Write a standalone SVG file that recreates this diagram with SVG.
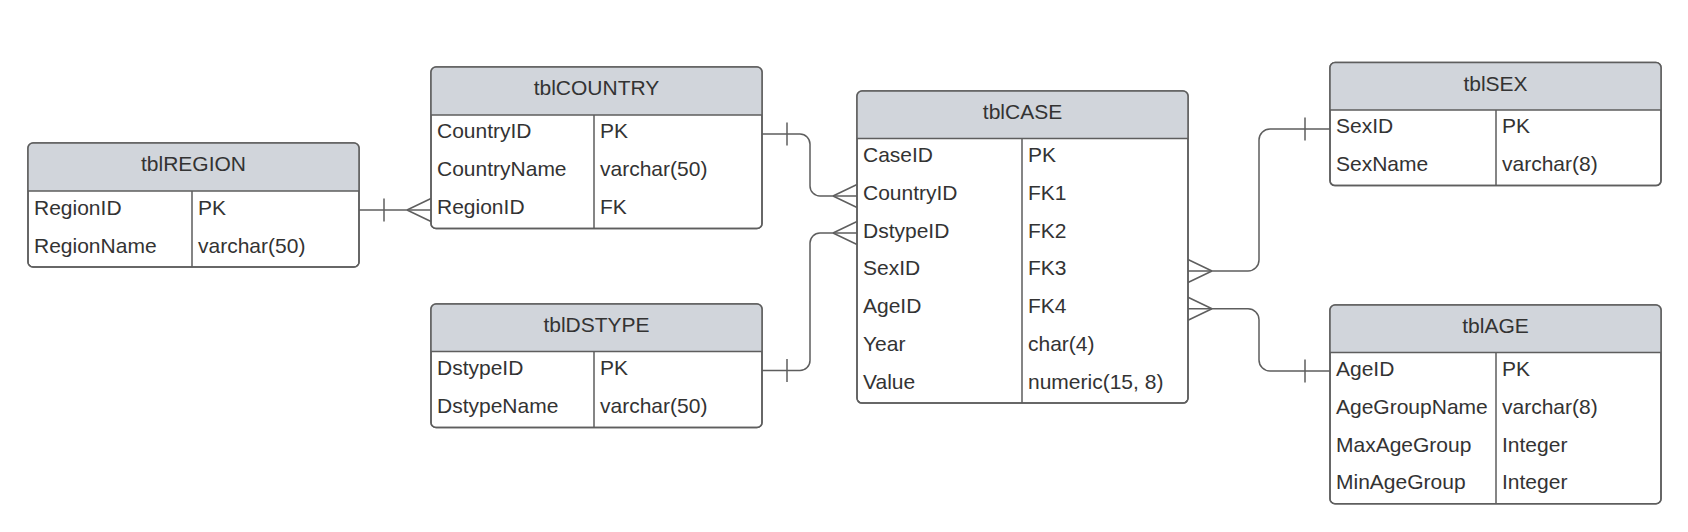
<svg xmlns="http://www.w3.org/2000/svg" width="1688" height="532" viewBox="0 0 1688 532">
<style>
.box{fill:#ffffff;stroke:#5e5e5e;stroke-width:1.5}
.hdr{fill:#d1d5db;stroke:none}
.ln{stroke:#5e5e5e;stroke-width:1.5;fill:none}
.t{font-family:"Liberation Sans",Arial,sans-serif;font-size:21px;fill:#333333}
.h{text-anchor:middle}
.conn{stroke:#5e5e5e;stroke-width:1.5;fill:none;marker-start:url(#one);marker-end:url(#many)}
.mk{stroke:#5e5e5e;stroke-width:1.5;fill:none}
</style>
<defs>
<marker id="one" markerUnits="userSpaceOnUse" viewBox="-30 -15 32 30" markerWidth="32" markerHeight="30" refX="0" refY="0" orient="auto-start-reverse" overflow="visible">
<path class="mk" d="M-25,-11.5 V11.5"/>
</marker>
<marker id="many" markerUnits="userSpaceOnUse" viewBox="-30 -15 32 30" markerWidth="32" markerHeight="30" refX="0" refY="0" orient="auto" overflow="visible">
<path class="mk" d="M-24,0 L0,-11.5 M-24,0 L0,11.5"/>
</marker>
</defs>
<rect width="1688" height="532" fill="#ffffff"/>

<g id="connectors">
<path class="conn" d="M359,210 H431"/>
<path class="conn" d="M762,134 H800 A10,10 0 0 1 810,144 V186 A10,10 0 0 0 820,196 H857"/>
<path class="conn" d="M762,370.5 H800 A10,10 0 0 0 810,360.5 V243 A10,10 0 0 1 820,233 H857"/>
<path class="conn" d="M1330,129 H1270 A11,11 0 0 0 1259,140 V260 A11,11 0 0 1 1248,271 H1188"/>
<path class="conn" d="M1330,371 H1270 A11,11 0 0 1 1259,360 V319.7 A11,11 0 0 0 1248,308.7 H1188"/>
</g>

<g id="tblREGION">
<rect class="box" x="28" y="143" width="331" height="124" rx="5"/>
<path class="hdr" d="M28,191 V148 A5,5 0 0 1 33,143 H354 A5,5 0 0 1 359,148 V191 Z"/>
<rect x="28" y="143" width="331" height="124" rx="5" class="ln"/>
<path class="ln" d="M28,191 H359 M192,191 V267"/>
<text class="t h" x="193.5" y="171">tblREGION</text>
<text class="t" x="34" y="214.5">RegionID</text><text class="t" x="198" y="214.5">PK</text>
<text class="t" x="34" y="252.5">RegionName</text><text class="t" x="198" y="252.5">varchar(50)</text>
</g>

<g id="tblCOUNTRY">
<rect class="box" x="431" y="67" width="331" height="161.4" rx="5"/>
<path class="hdr" d="M431,115 V72 A5,5 0 0 1 436,67 H757 A5,5 0 0 1 762,72 V115 Z"/>
<rect x="431" y="67" width="331" height="161.4" rx="5" class="ln"/>
<path class="ln" d="M431,115 H762 M594,115 V228.4"/>
<text class="t h" x="596.5" y="95">tblCOUNTRY</text>
<text class="t" x="437" y="138.4">CountryID</text><text class="t" x="600" y="138.4">PK</text>
<text class="t" x="437" y="176.2">CountryName</text><text class="t" x="600" y="176.2">varchar(50)</text>
<text class="t" x="437" y="214">RegionID</text><text class="t" x="600" y="214">FK</text>
</g>

<g id="tblDSTYPE">
<rect class="box" x="431" y="304" width="331" height="123.5" rx="5"/>
<path class="hdr" d="M431,351.5 V309 A5,5 0 0 1 436,304 H757 A5,5 0 0 1 762,309 V351.5 Z"/>
<rect x="431" y="304" width="331" height="123.5" rx="5" class="ln"/>
<path class="ln" d="M431,351.5 H762 M594,351.5 V427.5"/>
<text class="t h" x="596.5" y="332">tblDSTYPE</text>
<text class="t" x="437" y="375">DstypeID</text><text class="t" x="600" y="375">PK</text>
<text class="t" x="437" y="413">DstypeName</text><text class="t" x="600" y="413">varchar(50)</text>
</g>

<g id="tblCASE">
<rect class="box" x="857" y="91" width="331" height="312.1" rx="5"/>
<path class="hdr" d="M857,138.5 V96 A5,5 0 0 1 862,91 H1183 A5,5 0 0 1 1188,96 V138.5 Z"/>
<rect x="857" y="91" width="331" height="312.1" rx="5" class="ln"/>
<path class="ln" d="M857,138.5 H1188 M1022,138.5 V403.1"/>
<text class="t h" x="1022.5" y="119">tblCASE</text>
<text class="t" x="863" y="161.9">CaseID</text><text class="t" x="1028" y="161.9">PK</text>
<text class="t" x="863" y="199.7">CountryID</text><text class="t" x="1028" y="199.7">FK1</text>
<text class="t" x="863" y="237.5">DstypeID</text><text class="t" x="1028" y="237.5">FK2</text>
<text class="t" x="863" y="275.3">SexID</text><text class="t" x="1028" y="275.3">FK3</text>
<text class="t" x="863" y="313.1">AgeID</text><text class="t" x="1028" y="313.1">FK4</text>
<text class="t" x="863" y="350.9">Year</text><text class="t" x="1028" y="350.9">char(4)</text>
<text class="t" x="863" y="388.7">Value</text><text class="t" x="1028" y="388.7">numeric(15, 8)</text>
</g>

<g id="tblSEX">
<rect class="box" x="1330" y="62.5" width="331" height="123.1" rx="5"/>
<path class="hdr" d="M1330,110 V67.5 A5,5 0 0 1 1335,62.5 H1656 A5,5 0 0 1 1661,67.5 V110 Z"/>
<rect x="1330" y="62.5" width="331" height="123.1" rx="5" class="ln"/>
<path class="ln" d="M1330,110 H1661 M1496,110 V185.6"/>
<text class="t h" x="1495.5" y="90.5">tblSEX</text>
<text class="t" x="1336" y="133.4">SexID</text><text class="t" x="1502" y="133.4">PK</text>
<text class="t" x="1336" y="171.2">SexName</text><text class="t" x="1502" y="171.2">varchar(8)</text>
</g>

<g id="tblAGE">
<rect class="box" x="1330" y="305" width="331" height="198.7" rx="5"/>
<path class="hdr" d="M1330,352.5 V310 A5,5 0 0 1 1335,305 H1656 A5,5 0 0 1 1661,310 V352.5 Z"/>
<rect x="1330" y="305" width="331" height="198.7" rx="5" class="ln"/>
<path class="ln" d="M1330,352.5 H1661 M1496,352.5 V503.7"/>
<text class="t h" x="1495.5" y="333">tblAGE</text>
<text class="t" x="1336" y="375.9">AgeID</text><text class="t" x="1502" y="375.9">PK</text>
<text class="t" x="1336" y="413.7">AgeGroupName</text><text class="t" x="1502" y="413.7">varchar(8)</text>
<text class="t" x="1336" y="451.5">MaxAgeGroup</text><text class="t" x="1502" y="451.5">Integer</text>
<text class="t" x="1336" y="489.3">MinAgeGroup</text><text class="t" x="1502" y="489.3">Integer</text>
</g>
</svg>
